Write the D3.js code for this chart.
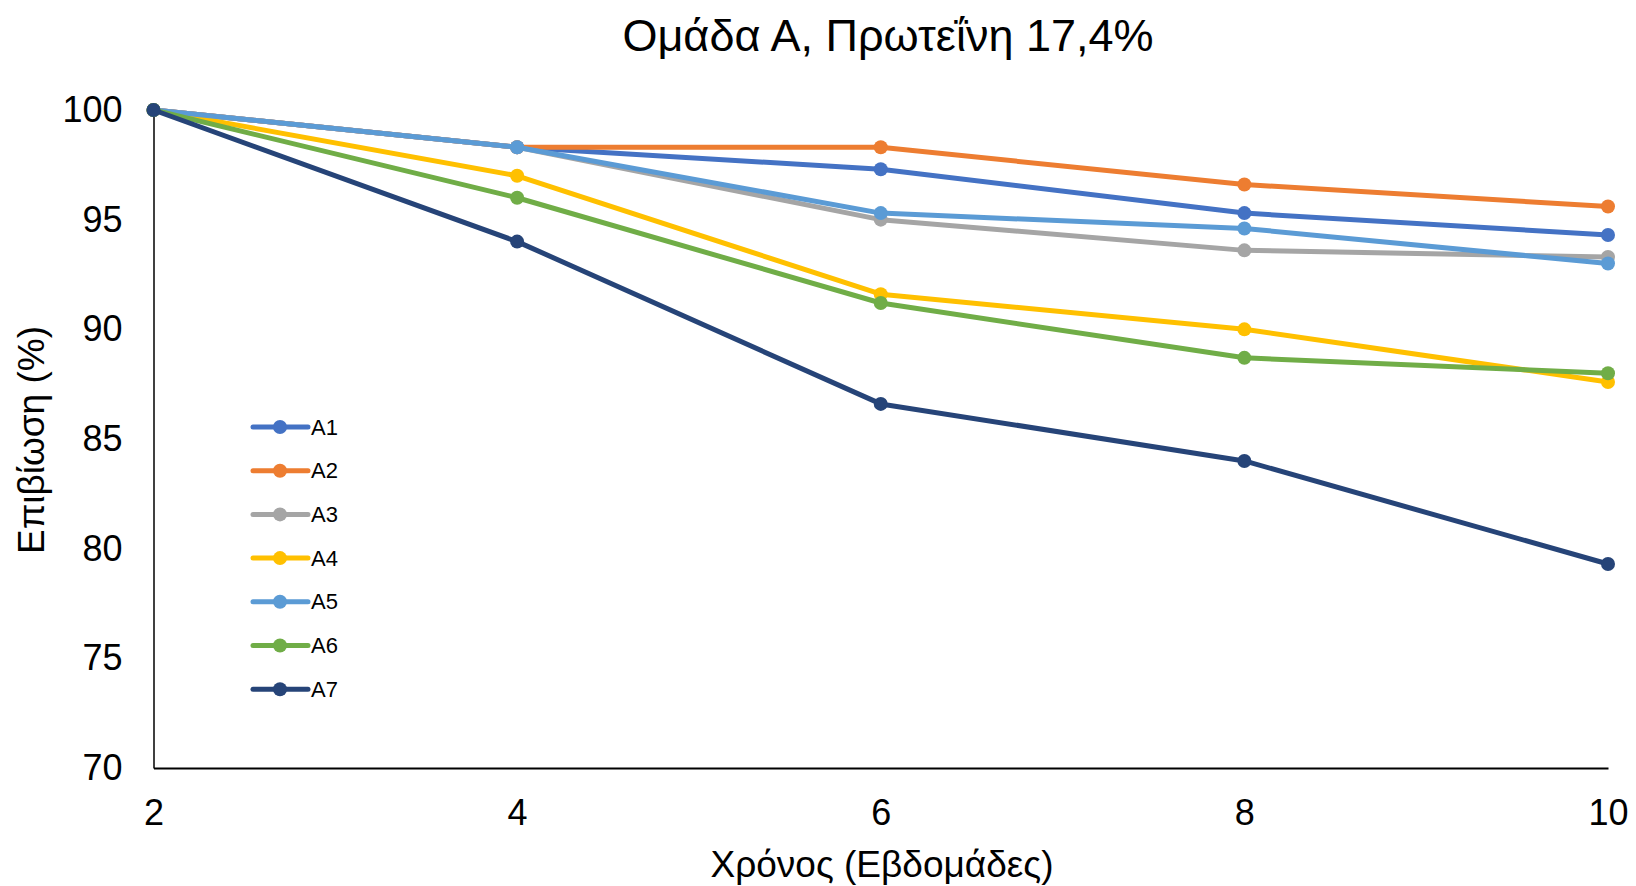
<!DOCTYPE html>
<html>
<head>
<meta charset="utf-8">
<script src="https://cdn.jsdelivr.net/npm/d3@7"></script>
<style>
  html, body { margin: 0; padding: 0; background: #fff; }
  svg { display: block; font-family: "Liberation Sans", Arial, sans-serif; }
</style>
</head>
<body>
<svg id="chart" width="1636" height="886"></svg>
<script>
// Survival (%) per week for each tank of group A
const weeks = [2, 4, 6, 8, 10];
const seriesNames = ["A1", "A2", "A3", "A4", "A5", "A6", "A7"];
const a1 = [100, 98.3, 97.3, 95.3, 94.3];
const a2 = [100, 98.3, 98.3, 96.6, 95.6];
const a3 = [100, 98.3, 95.0, 93.6, 93.3];
const a4 = [100, 97.0, 91.6, 90.0, 87.6];
const a5 = [100, 98.3, 95.3, 94.6, 93.0];
const a6 = [100, 96.0, 91.2, 88.7, 88.0];
const a7 = [100, 94.0, 86.6, 84.0, 79.3];
const seriesValues = [a1, a2, a3, a4, a5, a6, a7];
const colors = ["#4472C4", "#ED7D31", "#A5A5A5", "#FFC000", "#5B9BD5", "#70AD47", "#264478"];
const yTicks = [70, 75, 80, 85, 90, 95, 100];
const xTicks = [2, 4, 6, 8, 10];

const titleText = "Ομάδα Α, Πρωτεΐνη 17,4%";
const xTitle = "Χρόνος (Εβδομάδες)";
const yTitle = "Επιβίωση (%)";

const svg = d3.select("#chart");
const margin = { left: 153.5, right: 1636 - 1608, top: 110, bottom: 886 - 768 };
const W = 1636, H = 886;

const x = d3.scaleLinear().domain([2, 10]).range([margin.left, W - margin.right]);
const y = d3.scaleLinear().domain([70, 100]).range([H - margin.bottom, margin.top]);

const fontFam = "Liberation Sans, Arial, sans-serif";

// Title
svg.append("text")
  .attr("x", 888).attr("y", 35)
  .attr("text-anchor", "middle").attr("dominant-baseline", "central")
  .attr("font-size", 45).attr("fill", "#000")
  .text(titleText);

// Y axis
const yAxis = d3.axisLeft(y).tickValues(yTicks).tickSize(0).tickPadding(31).tickFormat(d3.format("d"));
const gy = svg.append("g").attr("transform", `translate(${margin.left},0)`).call(yAxis);
gy.select(".domain").attr("stroke", "#000").attr("stroke-width", 1.5);
gy.selectAll("text").attr("font-size", 36).attr("fill", "#000").attr("font-family", fontFam);

// X axis
const xAxis = d3.axisBottom(x).tickValues(xTicks).tickSize(0).tickPadding(31).tickFormat(d3.format("d"));
const gx = svg.append("g").attr("transform", `translate(0,${H - margin.bottom})`).call(xAxis);
gx.select(".domain").attr("stroke", "#000").attr("stroke-width", 2);
gx.selectAll("text").attr("font-size", 36).attr("fill", "#000").attr("font-family", fontFam);

// Axis titles
svg.append("text")
  .attr("x", 882).attr("y", 864)
  .attr("text-anchor", "middle").attr("dominant-baseline", "central")
  .attr("font-size", 37).attr("fill", "#000")
  .text(xTitle);

svg.append("text")
  .attr("transform", "translate(31,440) rotate(-90)")
  .attr("text-anchor", "middle").attr("dominant-baseline", "central")
  .attr("font-size", 37).attr("fill", "#000")
  .text(yTitle);

// Lines and markers
const line = d3.line().x((d, i) => x(weeks[i])).y(d => y(d));
seriesValues.forEach((vals, s) => {
  const g = svg.append("g");
  g.append("path").datum(vals)
    .attr("d", line).attr("fill", "none")
    .attr("stroke", colors[s]).attr("stroke-width", 5)
    .attr("stroke-linejoin", "round").attr("stroke-linecap", "round");
  g.selectAll("circle").data(vals).join("circle")
    .attr("cx", (d, i) => x(weeks[i])).attr("cy", d => y(d))
    .attr("r", 7).attr("fill", colors[s]);
});

// Legend
const legend = svg.append("g");
seriesNames.forEach((name, i) => {
  const ly = 427 + i * 43.7;
  legend.append("line").attr("x1", 253).attr("x2", 308).attr("y1", ly).attr("y2", ly)
    .attr("stroke", colors[i]).attr("stroke-width", 5).attr("stroke-linecap", "round");
  legend.append("circle").attr("cx", 280).attr("cy", ly).attr("r", 7).attr("fill", colors[i]);
  legend.append("text").attr("x", 311).attr("y", ly)
    .attr("dominant-baseline", "central").attr("font-size", 22).attr("fill", "#000")
    .text(name);
});
</script>
</body>
</html>
